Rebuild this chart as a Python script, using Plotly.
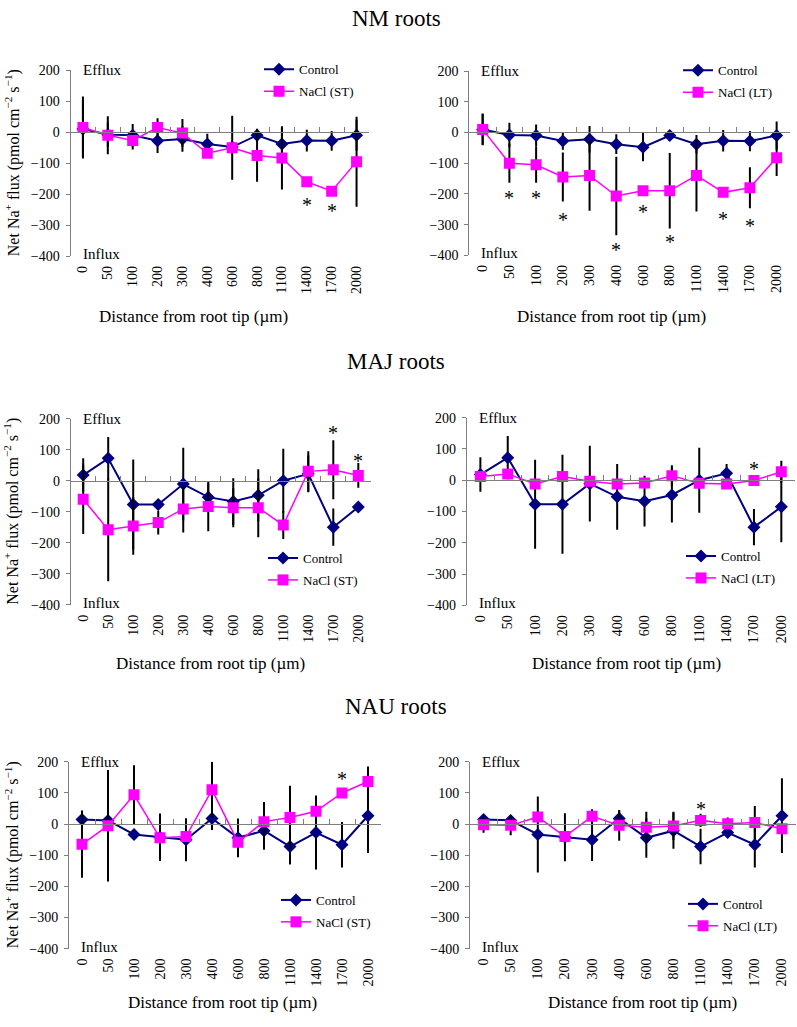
import plotly.graph_objects as go

# Canvas size in pixels; everything is laid out against it
W, H = 797, 1027

CATS = ["0", "50", "100", "200", "300", "400", "600", "800", "1100", "1400", "1700", "2000"]

# NM roots
NM_CONTROL = [10, -8, -10, -28, -22, -38, -48, -10, -38, -27, -28, -10]
NM_ST = [15, -10, -27, 15, -3, -68, -50, -75, -83, -160, -190, -95]
NM_LT = [10, -100, -105, -145, -140, -207, -190, -190, -140, -195, -180, -82]
NM_ST_CONTROL_ERR = [92, 40, 36, 39, 41, 33, 0, 21, 50, 35, 32, 50]
NM_ST_ERR = [100, 61, 29, 30, 45, 5, 103, 85, 102, 0, 0, 145]
NM_LT_CONTROL_ERR = [52, 40, 36, 28, 43, 32, 46, 18, 30, 35, 33, 46]
NM_LT_ERR = [50, 64, 59, 80, 115, 128, 0, 123, 117, 0, 67, 60]
NM_ST_STARS = [("1400", -217), ("1700", -238)]
NM_LT_STARS = [("50", -196), ("100", -196), ("200", -270), ("400", -367),
               ("600", -244), ("800", -340), ("1400", -265), ("1700", -287)]

# MAJ roots
MAJ_CONTROL = [18, 72, -77, -77, -11, -53, -67, -47, 0, 22, -150, -85]
MAJ_ST = [-60, -158, -146, -135, -91, -83, -87, -87, -143, 30, 35, 17]
MAJ_LT = [12, 20, -12, 12, -3, -12, -9, 14, -10, -12, -1, 27]
MAJ_ST_CONTROL_ERR = [54, 69, 145, 0, 117, 45, 75, 84, 103, 59, 60, 0]
MAJ_ST_ERR = [112, 166, 93, 38, 76, 80, 63, 95, 45, 65, 95, 40]
MAJ_LT_CONTROL_ERR = [55, 69, 142, 158, 121, 105, 81, 88, 104, 30, 58, 113]
MAJ_LT_ERR = [0, 0, 0, 0, 0, 0, 0, 34, 0, 0, 0, 35]
MAJ_ST_STARS = [("1700", 171), ("2000", 79)]
MAJ_LT_STARS = [("1700", 53)]

# NAU roots
NAU_CONTROL = [15, 12, -33, -42, -50, 18, -44, -21, -72, -27, -66, 27]
NAU_ST = [-65, -5, 94, -44, -40, 110, -58, 8, 21, 41, 100, 137]
NAU_LT = [-2, -4, 23, -40, 25, -4, -10, -6, 12, 1, 5, -15]
NAU_ST_CONTROL_ERR = [29, 0, 0, 76, 69, 37, 62, 61, 58, 119, 73, 120]
NAU_ST_ERR = [107, 179, 95, 0, 0, 90, 0, 63, 102, 0, 0, 48]
NAU_LT_CONTROL_ERR = [0, 0, 122, 77, 68, 24, 64, 58, 57, 0, 73, 120]
NAU_LT_ERR = [26, 32, 0, 0, 23, 49, 50, 46, 21, 20, 53, 0]
NAU_ST_STARS = [("100", 213), ("1700", 162)]
NAU_LT_STARS = [("1100", 64)]

SERIF = "Liberation Serif, Times New Roman, serif"
NAVY = "#000080"
MAGENTA = "#FF00FF"
AXIS_GREY = "#7f7f7f"


def px(x):
    return x / W


def py(y):
    return 1 - y / H


# pixel boxes of the plot areas, legend anchors and x-title centres
panels = [
    dict(box=(70.5, 369, 64, 253), control=NM_CONTROL, nacl=NM_ST, cerr=NM_ST_CONTROL_ERR,
         nerr=NM_ST_ERR, stars=NM_ST_STARS, label="NaCl (ST)", legend=(267, 48), xtitle=(193, 314)),
    dict(box=(469.3, 790, 65, 252), control=NM_CONTROL, nacl=NM_LT, cerr=NM_LT_CONTROL_ERR,
         nerr=NM_LT_ERR, stars=NM_LT_STARS, label="NaCl (LT)", legend=(686, 49), xtitle=(611, 314)),
    dict(box=(70.7, 370.8, 417.7, 606.7), control=MAJ_CONTROL, nacl=MAJ_ST, cerr=MAJ_ST_CONTROL_ERR,
         nerr=MAJ_ST_ERR, stars=MAJ_ST_STARS, label="NaCl (ST)", legend=(271, 544), xtitle=(210, 666)),
    dict(box=(466.7, 795, 416.7, 607.3), control=MAJ_CONTROL, nacl=MAJ_LT, cerr=MAJ_LT_CONTROL_ERR,
         nerr=MAJ_LT_ERR, stars=MAJ_LT_STARS, label="NaCl (LT)", legend=(689, 542), xtitle=(626, 666)),
    dict(box=(69, 381, 766, 955.7), control=NAU_CONTROL, nacl=NAU_ST, cerr=NAU_ST_CONTROL_ERR,
         nerr=NAU_ST_ERR, stars=NAU_ST_STARS, label="NaCl (ST)", legend=(284, 891), xtitle=(222, 1010)),
    dict(box=(470, 795.5, 766, 955.7), control=NAU_CONTROL, nacl=NAU_LT, cerr=NAU_LT_CONTROL_ERR,
         nerr=NAU_LT_ERR, stars=NAU_LT_STARS, label="NaCl (LT)", legend=(691, 895), xtitle=(642, 1010)),
]

YMIN, YMAX = -400, 200

fig = go.Figure()
layout = dict(
    width=W, height=H,
    margin=dict(l=0, r=0, t=0, b=0),
    paper_bgcolor="white", plot_bgcolor="white",
    font=dict(family=SERIF, size=14, color="black"),
)
annotations = []


def note(text, x, y, size, **kw):
    # paper-positioned text, centred unless told otherwise
    d = dict(text=text, x=px(x), y=py(y), xref="paper", yref="paper", showarrow=False,
             xanchor="center", yanchor="middle", font=dict(size=size))
    d.update(kw)
    annotations.append(d)


for i, p in enumerate(panels, start=1):
    x0, x1, y0, y1 = p["box"]
    sfx = "" if i == 1 else str(i)
    xa, ya = f"x{sfx}", f"y{sfx}"
    over = f"x{i + 6}"
    leg = "legend" if i == 1 else f"legend{i}"

    err = dict(type="data", visible=True, color="black", thickness=2, width=0)
    fig.add_trace(go.Scatter(
        x=CATS, y=p["control"], name="Control", xaxis=xa, yaxis=ya, legend=leg,
        legendgroup=f"c{i}", mode="lines+markers",
        line=dict(color=NAVY, width=2),
        marker=dict(symbol="diamond", size=10, color=NAVY),
        error_y=dict(array=p["cerr"], **err),
    ))
    fig.add_trace(go.Scatter(
        x=CATS, y=p["nacl"], name=p["label"], xaxis=xa, yaxis=ya, legend=leg,
        legendgroup=f"n{i}", mode="lines+markers",
        line=dict(color=MAGENTA, width=1.5),
        marker=dict(symbol="square", size=11, color=MAGENTA),
        error_y=dict(array=p["nerr"], **err),
    ))
    # helper trace that gives the zero-line axis its categories
    fig.add_trace(go.Scatter(
        x=CATS, y=p["control"], xaxis=over, yaxis=ya, mode="lines",
        line=dict(width=0), opacity=0, showlegend=False, hoverinfo="skip",
    ))

    zero_frac = (0 - YMIN) / (YMAX - YMIN)
    dom_y = [py(y1), py(y0)]
    layout[f"xaxis{sfx}"] = dict(
        domain=[px(x0), px(x1)], anchor=ya, type="category",
        categoryorder="array", categoryarray=CATS, range=[-0.5, len(CATS) - 0.5],
        showline=False, showgrid=False, zeroline=False, ticks="",
        tickangle=-90, ticklabelstandoff=6, tickfont=dict(size=14),
    )
    layout[f"xaxis{i + 6}"] = dict(
        domain=[px(x0), px(x1)], anchor="free", overlaying=xa, matches=xa, type="category",
        categoryorder="array", categoryarray=CATS,
        position=dom_y[0] + (dom_y[1] - dom_y[0]) * zero_frac,
        showline=True, linecolor=AXIS_GREY, linewidth=1,
        ticks="inside", tickson="boundaries", ticklen=5, tickcolor=AXIS_GREY,
        showticklabels=False, showgrid=False, zeroline=False,
    )
    layout[f"yaxis{sfx}"] = dict(
        domain=dom_y, anchor=xa, range=[YMIN, YMAX], dtick=100, tick0=0,
        showline=True, linecolor=AXIS_GREY, linewidth=1,
        ticks="outside", ticklen=4, tickcolor=AXIS_GREY, ticklabelstandoff=3,
        showgrid=False, zeroline=False, tickfont=dict(size=14),
    )
    lx, ly = p["legend"]
    layout[leg] = dict(
        x=px(lx - 8), y=py(ly), xanchor="left", yanchor="top",
        bgcolor="rgba(0,0,0,0)", font=dict(size=13), tracegroupgap=2,
        itemclick=False,
    )

    note("Efflux", x0 + 10, y0, 15, xanchor="left")
    note("Influx", x0 + 10, y1 - 2, 15, xanchor="left")
    tx, ty = p["xtitle"]
    note("Distance from root tip (µm)", tx, ty, 17)
    if i % 2 == 1:
        note("Net Na<sup>+</sup> flux (pmol cm<sup>−2</sup> s<sup>−1</sup>)",
             12, (y0 + y1) / 2, 16, textangle=-90)
    # significance marks, placed by category index
    for cat, val in p["stars"]:
        annotations.append(dict(text="*", x=CATS.index(cat), y=val, xref=xa, yref=ya,
                                showarrow=False, xanchor="center", yanchor="middle",
                                yshift=-5, font=dict(size=20)))

for title, ty in [("NM roots", 12), ("MAJ roots", 360), ("NAU roots", 710)]:
    note(title, 396, ty, 23)

layout["annotations"] = annotations
layout["showlegend"] = True
fig.update_layout(**layout)

# the page's default body margin would push the figure off the right edge
page_css = "document.body.style.margin = '0';"
fig.write_html("out.html", config={"displayModeBar": False}, post_script=page_css)
